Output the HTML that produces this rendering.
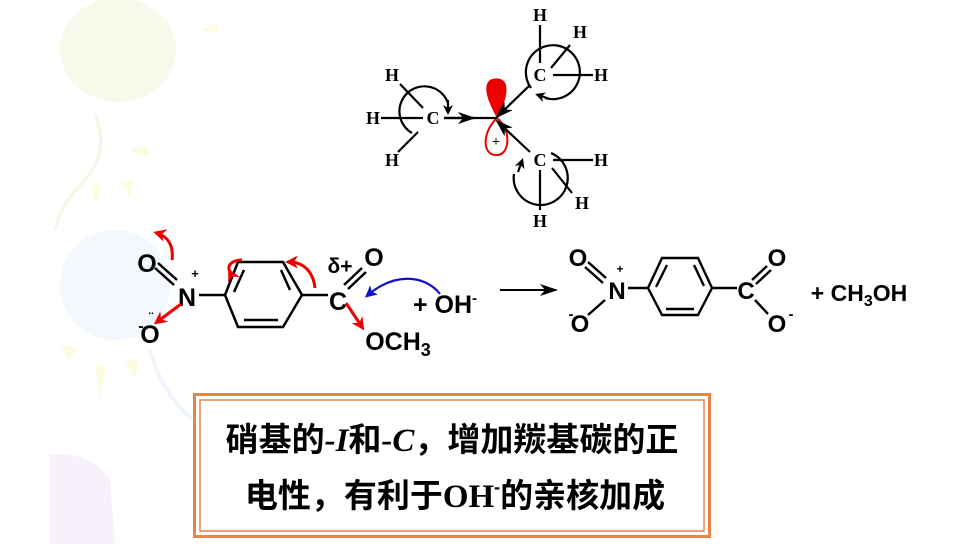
<!DOCTYPE html>
<html><head><meta charset="utf-8"><style>
body{margin:0;background:#fff;}
svg{display:block}
.t{font-family:"Liberation Serif",serif;font-weight:bold;font-size:18px}
.a{font-family:"Liberation Sans",sans-serif;font-weight:bold;font-size:25px}
.cn{font-family:"Liberation Sans","Noto Sans CJK SC",sans-serif;font-weight:bold;font-size:33px}
</style></head><body>
<svg width="963" height="544" viewBox="0 0 963 544" xmlns="http://www.w3.org/2000/svg">
<defs>
<marker id="ak" markerWidth="10" markerHeight="10" refX="7" refY="5" orient="auto" markerUnits="userSpaceOnUse" viewBox="0 0 10 10"><path d="M0,0 L10,5 L0,10 L3,5z" fill="#000"/></marker>
<marker id="ar" markerWidth="13" markerHeight="13" refX="9" refY="6.5" orient="auto" markerUnits="userSpaceOnUse" viewBox="0 0 13 13"><path d="M0,0 L13,6.5 L0,13 L4,6.5z" fill="#e00"/></marker>
<marker id="ab" markerWidth="12" markerHeight="12" refX="8" refY="6" orient="auto" markerUnits="userSpaceOnUse" viewBox="0 0 12 12"><path d="M0,0 L12,6 L0,12 L3,6z" fill="#11c"/></marker>
<marker id="big" markerWidth="18" markerHeight="12" refX="16" refY="6" orient="auto" markerUnits="userSpaceOnUse" viewBox="0 0 18 12"><path d="M0,0 L18,6 L0,12 L5,6z" fill="#000"/></marker>
</defs>
<ellipse cx="118" cy="50" rx="58" ry="52" fill="#f5faea"/>
<path d="M95,115 Q110,150 85,180 Q60,205 55,230" stroke="#f3f8e6" stroke-width="3" fill="none"/>
<ellipse cx="115" cy="285" rx="55" ry="55" fill="#f3f8fe"/>
<path d="M150,350 Q170,420 230,440" stroke="#eef5fc" stroke-width="4" fill="none"/>
<path d="M50,455 Q90,450 110,480 L115,544 L50,544z" fill="#f7f1fc"/>
<g fill="#fdfbe0"><path d="M90,185 l6,20 l6,-20z"/><path d="M120,180 l10,18 l4,-20z"/><path d="M130,150 l20,8 l-4,-12z"/><path d="M95,365 l5,35 l6,-35z"/><path d="M60,345 l10,18 l6,-15z"/><path d="M125,360 l10,20 l4,-20z"/><path d="M200,30 l20,3 l-3,-10z"/></g>

<g class="t" text-anchor="middle" fill="#000">
<path d="M497,118 C488,102 482,86 490,80 C496,77 504,78 506,85 C508,96 503,106 497,118z" fill="#e00"/>
<path d="M497,118 C512,130 510,156 496,155 C482,155 482,132 497,118z" fill="none" stroke="#e00" stroke-width="2"/>
<text x="496" y="146" font-size="14">+</text>
<text x="433" y="124">C</text>
<text x="373" y="124">H</text><text x="392" y="81">H</text><text x="392" y="166">H</text>
<g stroke="#000" stroke-width="2.2" fill="none">
<line x1="381" y1="118" x2="423" y2="118"/><line x1="400" y1="84" x2="423" y2="108"/><line x1="398" y1="152" x2="418" y2="132"/>
<path d="M412,133 A25,25 0 1 1 448,103"/><path d="M448,100 L448,112" marker-end="url(#ak)"/>
<line x1="444" y1="118" x2="497" y2="118"/>
<path d="M444,118 L474,118" marker-end="url(#big)"/>
<line x1="530" y1="85" x2="497" y2="117" marker-end="url(#big)"/>
<line x1="530" y1="152" x2="497" y2="121" marker-end="url(#big)"/>
<line x1="540" y1="25" x2="540" y2="63"/><line x1="551" y1="68" x2="570" y2="45"/><line x1="553" y1="75" x2="593" y2="75"/>
<path d="M531,88 A27,27 0 1 1 545,98"/><path d="M550,99 L538,95" marker-end="url(#ak)"/>
<line x1="553" y1="160" x2="593" y2="160"/><line x1="552" y1="168" x2="572" y2="193"/><line x1="540" y1="170" x2="540" y2="210"/>
<path d="M514,174 A27,27 0 1 0 551,153"/><path d="M518,172 L522,161" marker-end="url(#ak)"/>
</g>
<text x="540" y="81">C</text><text x="540" y="21">H</text><text x="580" y="38">H</text><text x="601" y="81">H</text>
<text x="540" y="166">C</text><text x="601" y="166">H</text><text x="582" y="209">H</text><text x="540" y="227">H</text>
</g>

<g class="a" fill="#000" text-anchor="middle">
<text x="147" y="272">O</text><text x="187" y="306">N</text><text x="150" y="343">O</text>
<text x="195" y="278" font-size="13">+</text><text x="141" y="331" font-size="16">-</text><text x="151" y="314" font-size="10">..</text>
<text x="338" y="310">C</text><text x="340" y="273" font-size="21">δ+</text><text x="374" y="266">O</text>
<text x="398" y="350">OCH<tspan font-size="18" dy="6">3</tspan></text>
<text x="445" y="313">+ OH<tspan font-size="15" dy="-10">-</tspan></text>
</g>
<g stroke="#000" stroke-width="2.5" fill="none">
<path d="M158,263 L177,280 M155,268 L174,285"/>
<line x1="199" y1="295" x2="225" y2="295"/>
<polygon points="225,295 238,262 283,262 302,295 283,327 238,327"/>
<line x1="244" y1="270" x2="234" y2="292"/><line x1="281" y1="270" x2="290" y2="290"/><line x1="244" y1="320" x2="278" y2="320"/>
<line x1="302" y1="295" x2="328" y2="295"/>
<path d="M344,285 L362,268 M348,289 L366,272"/>
</g>
<g stroke="#e00" stroke-width="3" fill="none">
<path d="M172,260 C174,245 167,236 157,233" marker-end="url(#ar)"/>
<path d="M181,304 L157,322" marker-end="url(#ar)"/>
<path d="M230,272 C226,264 234,260 242,260" marker-start="url(#ar)"/>
<path d="M315,288 C313,270 302,262 289,262" marker-end="url(#ar)"/>
<path d="M346,303 L362,327" marker-end="url(#ar)"/>
</g>
<path d="M440,294 C425,275 395,272 368,295" stroke="#11c" stroke-width="2.2" fill="none" marker-end="url(#ab)"/>

<line x1="500" y1="290" x2="556" y2="290" stroke="#000" stroke-width="2" marker-end="url(#big)"/>

<g class="a" fill="#000" text-anchor="middle">
<text x="578" y="266" font-size="24">O</text><text x="617" y="299" font-size="24">N</text><text x="620" y="273" font-size="12">+</text>
<text x="580" y="332" font-size="24">O</text><text x="571" y="319" font-size="15">-</text>
<text x="746" y="299" font-size="24">C</text><text x="777" y="266" font-size="24">O</text><text x="777" y="332" font-size="24">O</text><text x="791" y="319" font-size="15">-</text>
<text x="859" y="301" font-size="23">+ CH<tspan font-size="16" dy="5">3</tspan><tspan dy="-5">OH</tspan></text>
</g>
<g stroke="#000" stroke-width="2.4" fill="none">
<path d="M588,262 L606,278 M585,267 L603,283"/>
<line x1="605" y1="300" x2="588" y2="315"/>
<line x1="628" y1="288" x2="648" y2="288"/>
<polygon points="648,288 662,258 698,258 712,288 698,315 662,315"/>
<line x1="667" y1="265" x2="656" y2="287"/><line x1="694" y1="265" x2="704" y2="286"/><line x1="666" y1="309" x2="694" y2="309"/>
<line x1="712" y1="288" x2="737" y2="288"/>
<path d="M752,280 L767,266 M756,284 L771,270"/>
<line x1="755" y1="300" x2="768" y2="314"/>
</g>

<rect x="194.5" y="394.5" width="515" height="142" fill="#fff" stroke="#e8844a" stroke-width="3"/>
<rect x="200" y="400" width="504" height="131" fill="none" stroke="#e8844a" stroke-width="1.5"/>
<text class="cn" x="452" y="451" text-anchor="middle">硝基的<tspan font-family="Liberation Serif" font-style="italic">-I</tspan>和<tspan font-family="Liberation Serif" font-style="italic">-C</tspan>，增加羰基碳的正</text>
<text class="cn" x="455" y="507" text-anchor="middle">电性，有利于<tspan font-family="Liberation Serif">OH</tspan><tspan font-size="18" dy="-14">-</tspan><tspan dy="14">的亲核加成</tspan></text>
</svg>
</body></html>
